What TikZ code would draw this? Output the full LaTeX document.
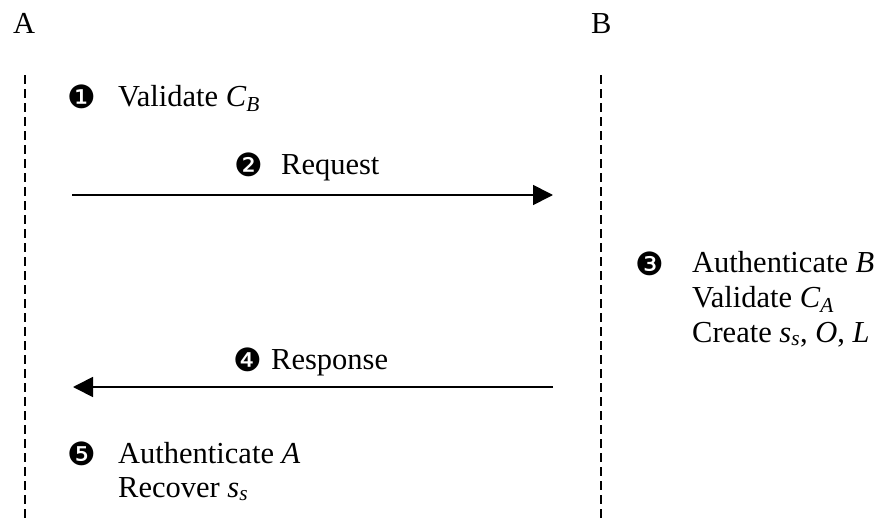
\documentclass[tikz,border=0pt]{standalone}
\usepackage{fontspec}
\setmainfont{Liberation Serif}
\newfontfamily\dingfont{DejaVu Sans}
\usetikzlibrary{arrows.meta}
\begin{document}
\begin{tikzpicture}[x=1pt,y=-1pt,
  txt/.style={anchor=base west, inner sep=0pt, font=\fontsize{30.5}{34.5}\selectfont},
  num/.style={anchor=center, inner sep=0pt, font=\dingfont\fontsize{32}{36}\selectfont},
  life/.style={line width=1.3pt, dash pattern=on 9pt off 5pt},
  msg/.style={line width=1.7pt, -{Triangle[length=20pt,width=20pt]}}]
\useasboundingbox (0,0) rectangle (886,522);
% parties
\node[txt] (A) at (13,33) {A};
\node[txt] (B) at (591,33) {B};
% lifelines
\coordinate (la top) at (25,75);
\coordinate (la bot) at (25,522);
\coordinate (lb top) at (601,75);
\coordinate (lb bot) at (601,522);
\draw[life] (la top) -- (la bot);
\draw[life] (lb top) -- (lb bot);
% step 1
\node[num] (n1) at (82,97) {❶};
\node[txt] (t1) at (118,106) {Validate \textit{C}\textsubscript{\textit{B}}};
% step 2
\node[num] (n2) at (249,165) {❷};
\node[txt] (t2) at (281,174) {Request};
\coordinate (req s) at (72,195);
\coordinate (req e) at (553,195);
\draw[msg] (req s) -- (req e);
% step 3
\node[num] (n3) at (650,264) {❸};
\node[txt] (t3a) at (692,272) {Authenticate \textit{B}};
\node[txt] (t3b) at (692,307) {Validate \textit{C}\textsubscript{\textit{A}}};
\node[txt] (t3c) at (692,342) {Create \textit{s}\textsubscript{\textit{s}}, \textit{O}, \textit{L}};
% step 4
\node[num] (n4) at (248,360) {❹};
\node[txt] (t4) at (271,369) {Response};
\coordinate (res s) at (553,387);
\coordinate (res e) at (73,387);
\draw[msg] (res s) -- (res e);
% step 5
\node[num] (n5) at (82,454) {❺};
\node[txt] (t5a) at (118,463) {Authenticate \textit{A}};
\node[txt] (t5b) at (118,497) {Recover \textit{s}\textsubscript{\textit{s}}};
\end{tikzpicture}
\end{document}
